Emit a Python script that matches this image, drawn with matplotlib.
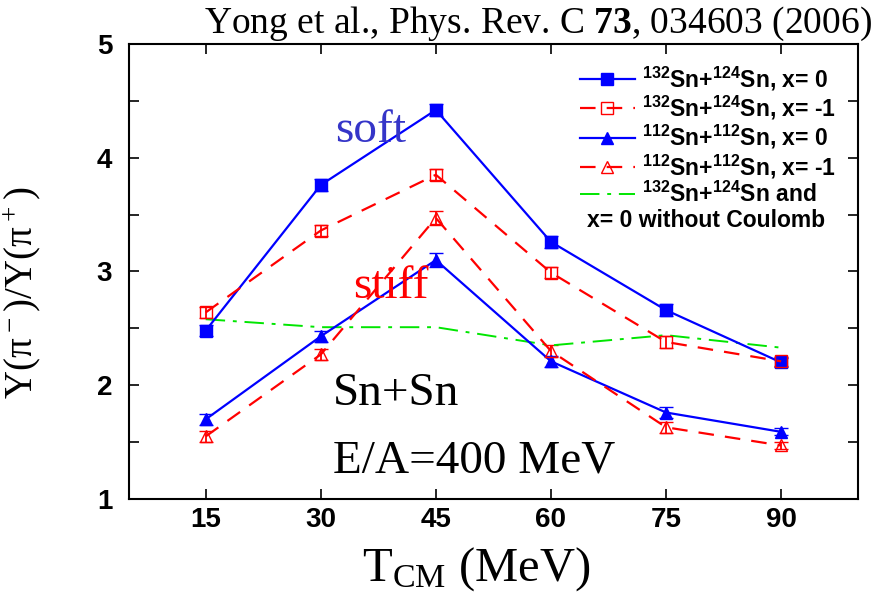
import numpy as np
import matplotlib
matplotlib.use("Agg")
import matplotlib.pyplot as plt

plt.rcParams["mathtext.default"] = "regular"
plt.rcParams["mathtext.fontset"] = "custom"
plt.rcParams["mathtext.rm"] = "Liberation Serif"
plt.rcParams["mathtext.bf"] = "Liberation Serif:bold"

# data
t_cm = [15, 30, 45, 60, 75, 90]
sn132_x0 = [2.48, 3.76, 4.42, 3.26, 2.66, 2.20]
sn132_xm1 = [2.64, 3.36, 3.85, 2.99, 2.38, 2.21]
sn112_x0 = [1.70, 2.43, 3.10, 2.21, 1.76, 1.59]
sn112_xm1 = [1.55, 2.27, 3.47, 2.30, 1.63, 1.47]
no_coulomb = [2.58, 2.51, 2.51, 2.35, 2.44, 2.33]
err_sq = [0.05, 0.05, 0.05, 0.05, 0.05, 0.04]
err_tri = [0.05, 0.05, 0.06, 0.05, 0.05, 0.03]

labels = [r"$^{132}$Sn+$^{124}$Sn, x= 0",
          r"$^{132}$Sn+$^{124}$Sn, x= -1",
          r"$^{112}$Sn+$^{112}$Sn, x= 0",
          r"$^{112}$Sn+$^{112}$Sn, x= -1",
          r"$^{132}$Sn+$^{124}$Sn and"]

blue = "#0000ff"
red = "#ff0000"
green = "#00e600"

fig = plt.figure(figsize=(8.75, 5.94), dpi=100)
ax = fig.add_axes([0.1474, 0.16, 0.833, 0.766])

e1 = ax.errorbar(t_cm, sn132_x0, yerr=err_sq, color=blue, lw=1.6, marker="s", ms=8,
                 capsize=5, elinewidth=1.3)
e2 = ax.errorbar(t_cm, sn132_xm1, yerr=err_sq, color=red, lw=1.6, marker="s", ms=8, mfc="none",
                 capsize=5, elinewidth=1.3, dashes=(7, 5))
e3 = ax.errorbar(t_cm, sn112_x0, yerr=err_tri, color=blue, lw=1.6, marker="^", ms=9,
                 capsize=5, elinewidth=1.3)
e4 = ax.errorbar(t_cm, sn112_xm1, yerr=err_tri, color=red, lw=1.6, marker="^", ms=9, mfc="none",
                 capsize=5, elinewidth=1.3, dashes=(7, 5))
g, = ax.plot(t_cm, no_coulomb, color=green, lw=1.4, dashes=(10, 4, 2, 4))

ax.set_xlim(5, 100)
ax.set_ylim(1, 5)
ax.set_xticks(t_cm)
ax.set_yticks([1, 2, 3, 4, 5])
ax.set_yticks(np.arange(1.5, 5, 1.0), minor=True)
ax.tick_params(which="both", direction="in", top=True, right=True, length=7, width=1.2)
ax.tick_params(axis="y", pad=12)
ax.tick_params(axis="x", pad=6)
for lab in ax.get_xticklabels() + ax.get_yticklabels():
    lab.set_fontfamily("Liberation Sans")
    lab.set_fontweight("bold")
    lab.set_fontsize(20)
for s in ax.spines.values():
    s.set_linewidth(1.5)

handles = [e1[0], e2[0], e3[0], e4[0], g]
leg = ax.legend(handles, labels, loc="upper right", bbox_to_anchor=(0.982, 0.975), frameon=False,
                prop={"family": "Liberation Sans", "weight": "bold", "size": 16.5},
                handlelength=2.4, handletextpad=0.3, labelspacing=0.05, borderaxespad=0)
ax.text(0.955, 0.597, "x= 0 without Coulomb", transform=ax.transAxes, ha="right",
        va="baseline", family="Liberation Sans", weight="bold", fontsize=16.5)

ax.text(31.9, 4.14, "soft", color="#3535c8", family="Liberation Serif", fontsize=34)
ax.text(34.2, 2.77, "stiff", color=red, family="Liberation Serif", fontsize=34)
ax.text(31.6, 1.83, "Sn+Sn", color="black", family="Liberation Serif", fontsize=34)
ax.text(31.6, 1.23, "E/A=400 MeV", color="black", family="Liberation Serif", fontsize=34)

ax.set_xlabel(r"T$_{CM}$ (MeV)", family="Liberation Serif", fontsize=35)
ax.xaxis.set_label_coords(0.476, -0.102)
ax.set_ylabel(r"Y(π$^-$)/Y(π$^+$)", family="Liberation Serif", fontsize=28)
ax.yaxis.set_label_coords(-0.118, 0.453)

fig.text(0.997, 0.944, r"Yong et al., Phys. Rev. C $\mathbf{73}$, 034603 (2006)",
         ha="right", va="baseline", family="Liberation Serif", fontsize=27)

fig.savefig("out.png", dpi=100)
